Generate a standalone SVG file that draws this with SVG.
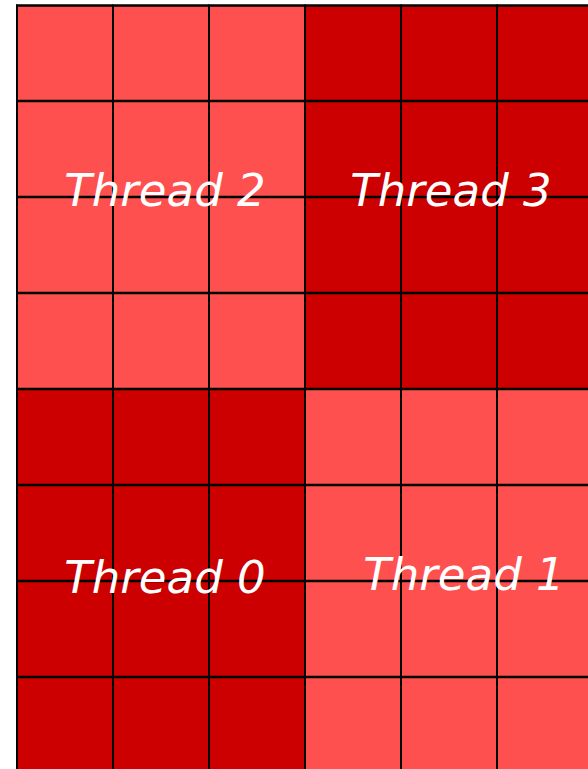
<svg xmlns="http://www.w3.org/2000/svg" width="588" height="769" viewBox="0 0 588 769">
<style>
.light{fill:#FF5050}
.dark{fill:#CC0000}
.grid line{stroke:#000;stroke-width:2}
.grid line.h{stroke-width:2.6}
.lbl{fill:#fff;font-family:"Comic Sans MS","DejaVu Sans",sans-serif;font-style:italic;font-size:45px;text-anchor:middle}
</style>
<rect width="588" height="769" fill="#fff"/>
<g id="thread2"><rect class="light" x="17" y="5.5" width="288" height="384"/></g>
<g id="thread3"><rect class="dark" x="305" y="5.5" width="283" height="384"/></g>
<g id="thread0"><rect class="dark" x="17" y="389" width="288" height="380"/></g>
<g id="thread1"><rect class="light" x="305" y="389" width="283" height="380"/></g>
<g class="grid">
<line x1="17" y1="4.5" x2="17" y2="769"/>
<line x1="113" y1="4.5" x2="113" y2="769"/>
<line x1="209" y1="4.5" x2="209" y2="769"/>
<line x1="305" y1="4.5" x2="305" y2="769"/>
<line x1="401" y1="4.5" x2="401" y2="769"/>
<line x1="497" y1="4.5" x2="497" y2="769"/>
<line class="h" x1="16" y1="5.5" x2="588" y2="5.5"/>
<line class="h" x1="16" y1="101" x2="588" y2="101"/>
<line class="h" x1="16" y1="197" x2="588" y2="197"/>
<line class="h" x1="16" y1="293" x2="588" y2="293"/>
<line class="h" x1="16" y1="389" x2="588" y2="389"/>
<line class="h" x1="16" y1="485" x2="588" y2="485"/>
<line class="h" x1="16" y1="581" x2="588" y2="581"/>
<line class="h" x1="16" y1="677" x2="588" y2="677"/>
</g>
<text class="lbl" x="165" y="206">Thread 2</text>
<text class="lbl" x="451" y="206">Thread 3</text>
<text class="lbl" x="165" y="593">Thread 0</text>
<text class="lbl" x="464" y="590">Thread 1</text>
</svg>
